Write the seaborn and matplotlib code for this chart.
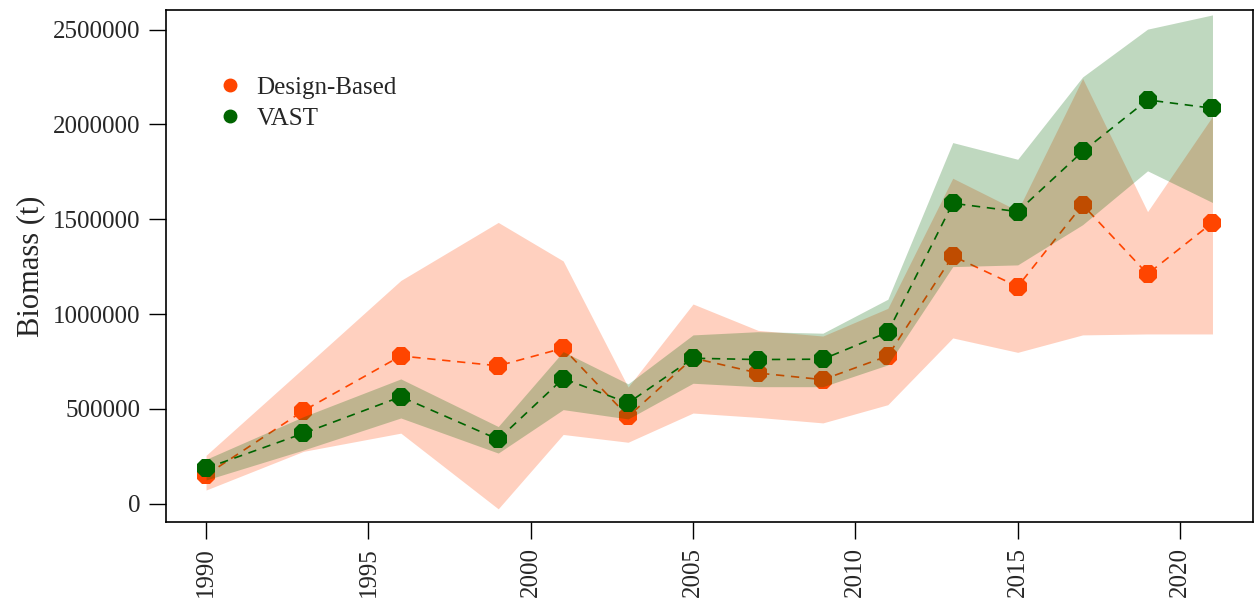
import matplotlib

matplotlib.use("Agg")
import matplotlib.pyplot as plt
import pandas as pd
import seaborn as sns
from matplotlib.lines import Line2D

years = [1990, 1993, 1996, 1999, 2001, 2003, 2005, 2007, 2009, 2011, 2013, 2015, 2017, 2019, 2021]

design = [151e3, 490e3, 779e3, 727e3, 820e3, 460e3, 768e3, 689e3, 654e3, 779e3,
          1306e3, 1145e3, 1576e3, 1211e3, 1482e3]
design_lo = [72e3, 276e3, 372e3, -27e3, 365e3, 324e3, 478e3, 455e3, 426e3, 522e3,
             874e3, 798e3, 890e3, 895e3, 895e3]
design_hi = [255e3, 715e3, 1177e3, 1483e3, 1280e3, 615e3, 1053e3, 914e3, 884e3, 1030e3,
             1716e3, 1545e3, 2242e3, 1540e3, 2042e3]

vast = [187e3, 371e3, 564e3, 339e3, 660e3, 531e3, 767e3, 760e3, 762e3, 904e3,
        1584e3, 1540e3, 1857e3, 2129e3, 2085e3]
vast_lo = [125e3, 283e3, 452e3, 267e3, 496e3, 447e3, 635e3, 617e3, 617e3, 732e3,
           1250e3, 1259e3, 1471e3, 1755e3, 1588e3]
vast_hi = [234e3, 459e3, 658e3, 407e3, 802e3, 632e3, 890e3, 907e3, 899e3, 1078e3,
           1904e3, 1816e3, 2250e3, 2502e3, 2577e3]

y_ticks = [0, 500000, 1000000, 1500000, 2000000, 2500000]
x_ticks = [1990, 1995, 2000, 2005, 2010, 2015, 2020]

df = pd.DataFrame({
    "year": years,
    "design": design, "design_lo": design_lo, "design_hi": design_hi,
    "vast": vast, "vast_lo": vast_lo, "vast_hi": vast_hi,
})

RED = "#FF4500"
GREEN = "#006400"

sns.set_theme(style="white")
plt.rcParams["font.family"] = ["Liberation Serif", "DejaVu Serif"]

fig = plt.figure(figsize=(12.54, 6.02), dpi=100)
ax = fig.add_axes([0.1322, 0.1324, 0.8668, 0.851])

# drawing order matters: the green band sits on top of the red points
ax.fill_between(df["year"], df["design_lo"], df["design_hi"], color=RED, alpha=0.25,
                linewidth=0, zorder=1)
sns.lineplot(data=df, x="year", y="design", ax=ax, color=RED, linestyle=(0, (5, 4)),
             linewidth=1.2, marker="8", markersize=14.5, markeredgewidth=0, zorder=2)
ax.fill_between(df["year"], df["vast_lo"], df["vast_hi"], color=GREEN, alpha=0.25,
                linewidth=0, zorder=3)
sns.lineplot(data=df, x="year", y="vast", ax=ax, color=GREEN, linestyle=(0, (5, 4)),
             linewidth=1.2, marker="8", markersize=14.5, markeredgewidth=0, zorder=4)

ax.set_xlim(1988.76, 2022.24)
ax.set_ylim(-98000, 2603000)
ax.set_xticks(x_ticks)
ax.set_xticklabels([str(x) for x in x_ticks], rotation=90)
ax.set_yticks(y_ticks)
ax.set_yticklabels([str(y) for y in y_ticks])
ax.tick_params(axis="both", direction="out", length=12, width=1, color="black",
               labelsize=18, pad=6, left=True, bottom=True)
ax.set_xlabel("")
ax.set_ylabel("Biomass (t)", fontsize=22, labelpad=6)
for s in ax.spines.values():
    s.set_visible(True)
    s.set_color("black")
    s.set_linewidth(1.2)

handles = [
    Line2D([], [], color=RED, marker="o", linestyle="none", markersize=9),
    Line2D([], [], color=GREEN, marker="o", linestyle="none", markersize=9),
]
ax.legend(handles, ["Design-Based", "VAST"], loc="upper left", bbox_to_anchor=(0.048, 0.871),
          frameon=False, fontsize=18, handlelength=1, handletextpad=0.55,
          borderpad=0, borderaxespad=0, labelspacing=0.35)

fig.savefig("out.png", dpi=100)
